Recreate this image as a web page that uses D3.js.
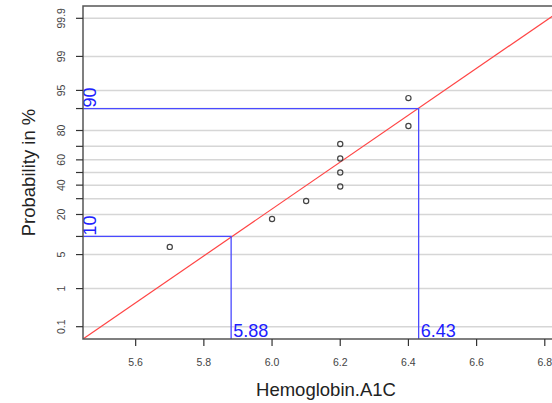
<!DOCTYPE html>
<html>
<head>
<meta charset="utf-8">
<script src="https://cdn.jsdelivr.net/npm/d3@7"></script>
<style>
  body { margin: 0; background: #fff; }
  svg { display: block; font-family: "Liberation Sans", Arial, sans-serif; }
</style>
</head>
<body>
<div id="chart"></div>
<script>
// observed values and their plotting positions (percent)
const hba1c = [5.7, 6.0, 6.1, 6.2, 6.2, 6.2, 6.2, 6.4, 6.4];
const probPct = [6.8, 17.6, 28.4, 38.9, 50, 61.1, 71.6, 82.4, 93.2];

// fitted normal (red line)
const fitMean = 6.1556;
const fitSd = 0.2128;

// reference lines at 10% and 90%
const refPct = [10, 90];
const refVal = [5.88, 6.43];

const yTicks = [0.1, 1, 5, 10, 20, 30, 40, 50, 60, 70, 80, 90, 95, 99, 99.9];
const yTickLabels = ["0.1", "1", "5", "", "20", "", "40", "", "60", "", "80", "", "95", "99", "99.9"];
const xTicks = [5.6, 5.8, 6.0, 6.2, 6.4, 6.6, 6.8];

const width = 552, height = 403;
const mLeft = 83, mTop = 6, mRight = 569, mBottom = 339;

// inverse normal cdf (Acklam)
function qnorm(p) {
  const a = [-39.69683028665376, 220.9460984245205, -275.9285104469687, 138.3577518672690, -30.66479806614716, 2.506628277459239];
  const b = [-54.47609879822406, 161.5858368580409, -155.6989798598866, 66.80131188771972, -13.28068155288572];
  const c = [-0.007784894002430293, -0.3223964580411365, -2.400758277161838, -2.549732539343734, 4.374664141464968, 2.938163982698783];
  const d = [0.007784695709041462, 0.3224671290700398, 2.445134137142996, 3.754408661907416];
  const pl = 0.02425;
  let q, r;
  if (p < pl) {
    q = Math.sqrt(-2 * Math.log(p));
    return (((((c[0]*q+c[1])*q+c[2])*q+c[3])*q+c[4])*q+c[5]) / ((((d[0]*q+d[1])*q+d[2])*q+d[3])*q+1);
  }
  if (p > 1 - pl) {
    q = Math.sqrt(-2 * Math.log(1 - p));
    return -(((((c[0]*q+c[1])*q+c[2])*q+c[3])*q+c[4])*q+c[5]) / ((((d[0]*q+d[1])*q+d[2])*q+d[3])*q+1);
  }
  q = p - 0.5; r = q * q;
  return (((((a[0]*r+a[1])*r+a[2])*r+a[3])*r+a[4])*r+a[5])*q / (((((b[0]*r+b[1])*r+b[2])*r+b[3])*r+b[4])*r+1);
}

const x = d3.scaleLinear().domain([5.4455, 6.871]).range([mLeft, mRight]);
const z = d3.scaleLinear().domain([-3.337, 3.337]).range([mBottom, mTop]);
const y = pct => z(qnorm(pct / 100));

const svg = d3.select("#chart").append("svg")
  .attr("width", width)
  .attr("height", height);

svg.append("defs").append("clipPath").attr("id", "plotclip")
  .append("rect").attr("x", mLeft).attr("y", mTop)
  .attr("width", mRight - mLeft).attr("height", mBottom - mTop);

// grid
svg.append("g")
  .selectAll("line")
  .data(yTicks)
  .join("line")
  .attr("x1", mLeft).attr("x2", mRight)
  .attr("y1", d => y(d)).attr("y2", d => y(d))
  .attr("stroke", "#d6d6d6")
  .attr("stroke-width", 1.5);

const plot = svg.append("g").attr("clip-path", "url(#plotclip)");

// fitted line
const xd = x.domain();
plot.append("line")
  .attr("x1", x(xd[0])).attr("y1", z((xd[0] - fitMean) / fitSd))
  .attr("x2", x(xd[1])).attr("y2", z((xd[1] - fitMean) / fitSd))
  .attr("stroke", "#ff4444")
  .attr("stroke-width", 1.2);

// reference lines
refPct.forEach((p, i) => {
  plot.append("path")
    .attr("d", `M${mLeft},${y(p)}H${x(refVal[i])}V${mBottom}`)
    .attr("fill", "none")
    .attr("stroke", "#4a4aff")
    .attr("stroke-width", 1.3);
  svg.append("text")
    .attr("transform", `translate(${mLeft + 13},${y(p) - 1}) rotate(-90)`)
    .attr("fill", "#2020ff")
    .attr("font-size", 18)
    .text(p);
  svg.append("text")
    .attr("x", x(refVal[i]) + 2)
    .attr("y", mBottom - 2)
    .attr("fill", "#2020ff")
    .attr("font-size", 18)
    .text(refVal[i].toFixed(2));
});

// points
plot.append("g")
  .selectAll("circle")
  .data(hba1c)
  .join("circle")
  .attr("cx", d => x(d))
  .attr("cy", (d, i) => y(probPct[i]))
  .attr("r", 2.6)
  .attr("fill", "none")
  .attr("stroke", "#444")
  .attr("stroke-width", 1.2);

// box
svg.append("rect")
  .attr("x", mLeft).attr("y", mTop)
  .attr("width", mRight - mLeft).attr("height", mBottom - mTop)
  .attr("fill", "none")
  .attr("stroke", "#555")
  .attr("stroke-width", 1.5);

// y axis ticks
const yax = svg.append("g");
yax.selectAll("line")
  .data(yTicks)
  .join("line")
  .attr("x1", mLeft - 7).attr("x2", mLeft)
  .attr("y1", d => y(d)).attr("y2", d => y(d))
  .attr("stroke", "#333").attr("stroke-width", 1.2);
yax.selectAll("text")
  .data(yTicks)
  .join("text")
  .attr("transform", d => `translate(65,${y(d)}) rotate(-90)`)
  .attr("text-anchor", "middle")
  .attr("font-size", 10.5)
  .attr("fill", "#444")
  .text((d, i) => yTickLabels[i]);

// x axis ticks
const xax = svg.append("g");
xax.selectAll("line")
  .data(xTicks)
  .join("line")
  .attr("x1", d => x(d)).attr("x2", d => x(d))
  .attr("y1", mBottom).attr("y2", mBottom + 7)
  .attr("stroke", "#333").attr("stroke-width", 1.2);
xax.selectAll("text")
  .data(xTicks)
  .join("text")
  .attr("x", d => x(d))
  .attr("y", 366)
  .attr("text-anchor", "middle")
  .attr("font-size", 10.5)
  .attr("fill", "#444")
  .text(d => d.toFixed(1));

// titles
svg.append("text")
  .attr("x", (mLeft + mRight) / 2)
  .attr("y", 396)
  .attr("text-anchor", "middle")
  .attr("font-size", 18.5)
  .attr("fill", "#222")
  .text("Hemoglobin.A1C");

svg.append("text")
  .attr("transform", `translate(35,${(mTop + mBottom) / 2}) rotate(-90)`)
  .attr("text-anchor", "middle")
  .attr("font-size", 18.5)
  .attr("fill", "#222")
  .text("Probability in %");
</script>
</body>
</html>
